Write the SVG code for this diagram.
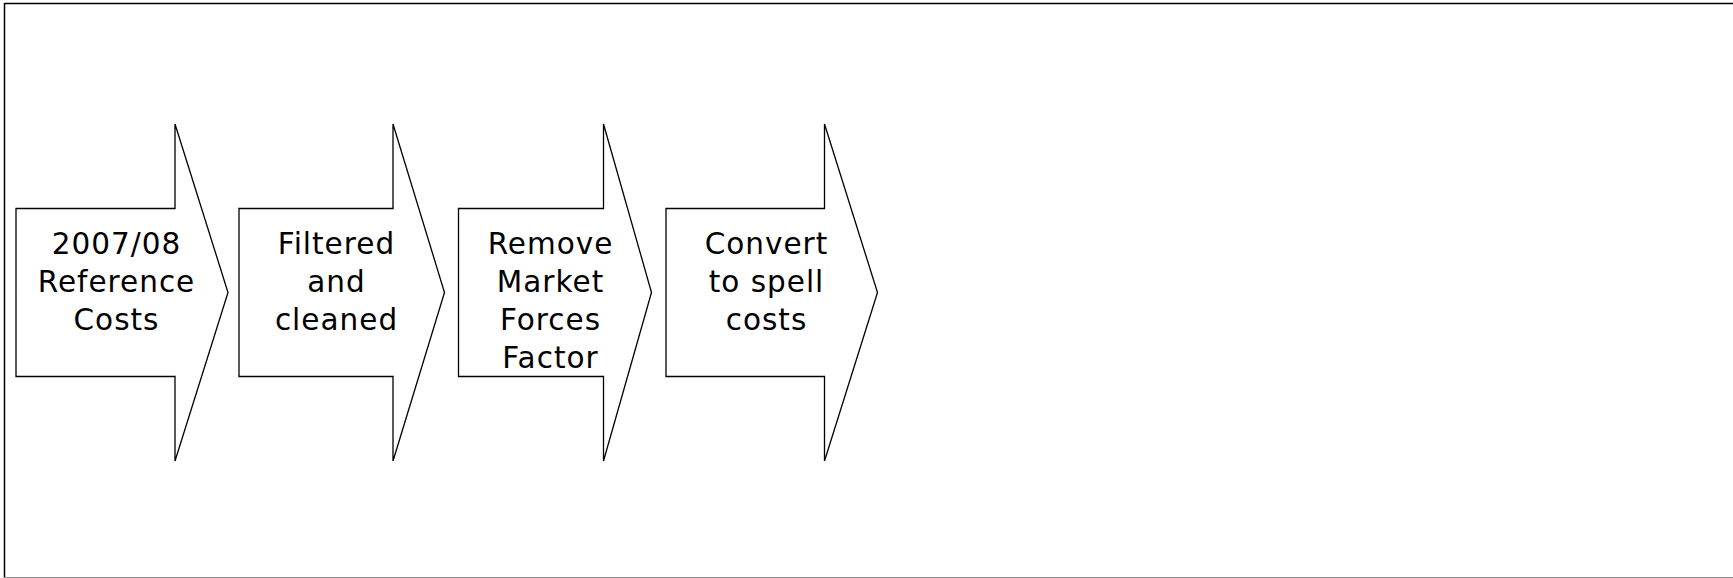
<svg xmlns="http://www.w3.org/2000/svg" width="1733" height="578" viewBox="0 0 1733 578">
<style>
.arrow{fill:#fff;stroke:#000;stroke-width:1.3;stroke-linejoin:miter}
.lbl{font-family:"DejaVu Sans",Verdana,sans-serif;font-size:29.5px;letter-spacing:1px;fill:#000;text-anchor:middle}
</style>
<rect width="1733" height="578" fill="#fff"/>
<g id="frame">
<line x1="4.5" y1="3.5" x2="1733" y2="3.5" stroke="#000" stroke-width="1.5"/>
<line x1="4.5" y1="3" x2="4.5" y2="578" stroke="#000" stroke-width="1.5"/>
<line x1="4" y1="577.5" x2="1733" y2="577.5" stroke="#888" stroke-width="1.2"/>
</g>
<g id="connectors"></g>
<g id="step1">
<polygon class="arrow" points="16,208.5 175,208.5 175,124 228,292.5 175,461 175,376.5 16,376.5"/>
<text class="lbl" x="116.5" y="254">2007/08</text>
<text class="lbl" x="116.5" y="292">Reference</text>
<text class="lbl" x="116.5" y="330">Costs</text>
</g>
<g id="step2">
<polygon class="arrow" points="239,208.5 393,208.5 393,124 444.5,292.5 393,461 393,376.5 239,376.5"/>
<text class="lbl" x="336.5" y="254">Filtered</text>
<text class="lbl" x="336.5" y="292">and</text>
<text class="lbl" x="336.5" y="330">cleaned</text>
</g>
<g id="step3">
<polygon class="arrow" points="458.5,208.5 603.5,208.5 603.5,124 651.5,292.5 603.5,461 603.5,376.5 458.5,376.5"/>
<text class="lbl" x="550.5" y="254">Remove</text>
<text class="lbl" x="550.5" y="292">Market</text>
<text class="lbl" x="550.5" y="330">Forces</text>
<text class="lbl" x="550.5" y="368">Factor</text>
</g>
<g id="step4">
<polygon class="arrow" points="666,208.5 824.5,208.5 824.5,124 877.5,292.5 824.5,461 824.5,376.5 666,376.5"/>
<text class="lbl" x="766.5" y="254">Convert</text>
<text class="lbl" x="766.5" y="292">to spell</text>
<text class="lbl" x="766.5" y="330">costs</text>
</g>
</svg>
